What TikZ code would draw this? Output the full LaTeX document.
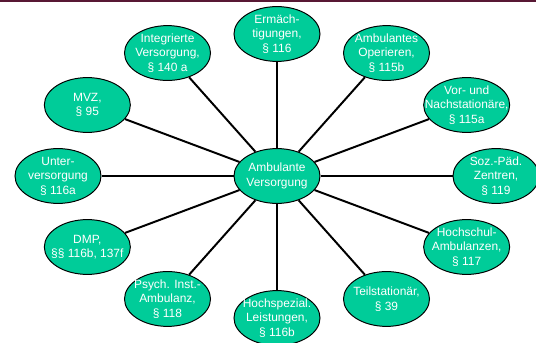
\documentclass[tikz,border=0pt]{standalone}
\usepackage{fontspec}
\setmainfont{Liberation Sans}
\usetikzlibrary{shapes.geometric}
\definecolor{bubblegreen}{RGB}{0,204,153}
\definecolor{barmaroon}{RGB}{88,24,52}
\tikzset{
    bubble/.style={ellipse,draw=black,line width=0.7pt,fill=bubblegreen,
        minimum width=2.15cm,minimum height=1.37cm,inner sep=0pt},
    bubbletext/.style={text=white,align=center,inner sep=0pt,
        font=\fontsize{8.5}{10.3}\selectfont},
    spoke/.style={line width=1.4pt,black}
}
\begin{document}
\begin{tikzpicture}[x=0.025cm,y=0.025cm]
    \useasboundingbox (0,0) rectangle (536,342);
    % top bar
    \fill[barmaroon] (0,339.5) rectangle (536,342);

    % centre
    \node[bubble] (c) at (277,166) {};
    \node[bubbletext] (ct) at (c) {Ambulante\\Versorgung};

    % spokes
    \foreach \a/\txt [count=\i] in {
        90/{Ermäch-\\tigungen,\\§ 116},
        60/{Ambulantes\\Operieren,\\§ 115b},
        30/{Vor- und\\Nachstationäre,\\§ 115a},
        0/{Soz.-Päd.\\Zentren,\\§ 119},
        -30/{Hochschul-\\Ambulanzen,\\§ 117},
        -60/{Teilstationär,\\§ 39},
        -90/{Hochspezial.\\Leistungen,\\§ 116b},
        -120/{Psych. Inst.-\\Ambulanz,\\§ 118},
        -150/{DMP,\\§§ 116b, 137f},
        180/{Unter-\\versorgung\\§ 116a},
        150/{MVZ,\\§ 95},
        120/{Integrierte\\Versorgung,\\§ 140 a}}
    {
        \node[bubble] (n\i) at ({277+219*cos(\a)},{166+142*sin(\a)}) {};
        \node[bubbletext] (t\i) at (n\i) {\txt};
        \draw[spoke] (c) -- (n\i);
    }
\end{tikzpicture}
\end{document}
